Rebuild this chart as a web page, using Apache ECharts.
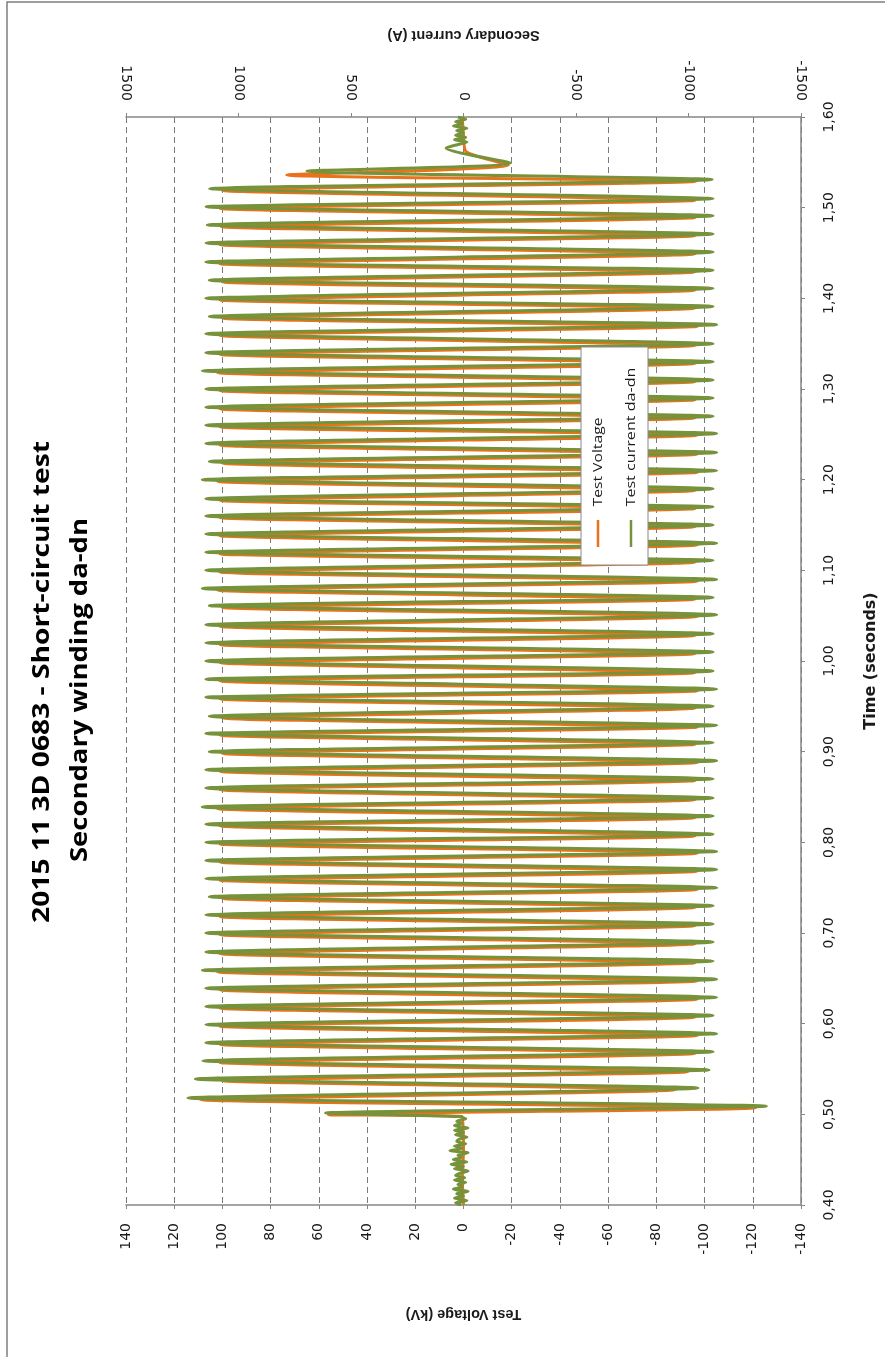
<!DOCTYPE html>
<html>
<head>
<meta charset="utf-8">
<script src="https://cdn.jsdelivr.net/npm/echarts@6/dist/echarts.min.js"></script>
<style>html,body{margin:0;padding:0;background:#fff;}#chart{width:885px;height:1357px;}</style>
</head>
<body>
<div id="chart"></div>
<script>
// ---- Data ----
const titleLine1 = '2015 11 3D 0683 - Short-circuit test';
const titleLine2 = 'Secondary winding da-dn';
const seriesNames = ['Test Voltage', 'Test current da-dn'];

// Test Voltage (kV) — pre-fault trace and first transient peak
const voltStartT = [0.400, 0.430, 0.460, 0.4975, 0.4995];
const voltStartV = [0, 0.5, 0, 0.5, 56];
// Test Voltage positive peaks
const voltPosT = [0.516,0.537,0.557,0.577,0.597,0.617,0.637,0.657,0.677,0.698,0.718,0.738,0.758,0.778,0.798,0.818,0.837,0.858,0.878,0.898,0.918,0.937,0.958,0.978,0.998,1.018,1.038,1.059,1.078,1.098,1.118,1.138,1.158,1.177,1.198,1.218,1.238,1.258,1.278,1.298,1.318,1.338,1.359,1.378,1.398,1.418,1.438,1.459,1.479,1.499,1.519];
const voltPosV = [109,100,101,101,101,101,101,102,101,101,101,100,101,101,101,101,102,101,101,100,101,100,101,101,101,101,101,100,102,101,101,101,101,101,102,100,101,101,101,101,102,101,101,100,101,100,101,101,100.5,101,100];
// Test Voltage negative peaks
const voltNegT = [0.507,0.527,0.547,0.567,0.587,0.607,0.627,0.647,0.667,0.688,0.708,0.728,0.748,0.768,0.788,0.807,0.827,0.847,0.868,0.888,0.908,0.927,0.948,0.967,0.987,1.008,1.028,1.049,1.068,1.088,1.109,1.128,1.148,1.168,1.188,1.208,1.228,1.249,1.268,1.288,1.308,1.328,1.348,1.369,1.389,1.409,1.429,1.449,1.469,1.489,1.508,1.529];
const voltNegV = [-121,-88,-93,-96,-97,-96,-97,-97,-96,-96,-96,-96,-97,-97,-97,-96,-96,-96,-96,-97,-96,-97,-96,-97,-96,-96,-96,-97,-96,-97,-96,-97,-96,-96,-96,-97,-97,-97,-96,-96,-96,-96,-96,-97,-96,-96,-96,-96,-96,-96,-96,-96.5];
// Test Voltage — switch-off transient and post-fault trace
const voltEndT = [1.536, 1.547, 1.562, 1.580, 1.600];
const voltEndV = [73.3, -18.6, -1, 0, 0.5];

// Secondary current (A) — pre-fault noise and first transient peak
const currStartT = [0.4000,0.4025,0.4050,0.4075,0.4100,0.4125,0.4150,0.4175,0.4200,0.4225,0.4250,0.4275,0.4300,0.4325,0.4350,0.4375,0.4400,0.4425,0.4450,0.4475,0.4500,0.4525,0.4550,0.4575,0.4600,0.4625,0.4650,0.4675,0.4700,0.4725,0.4750,0.4775,0.4800,0.4825,0.4850,0.4875,0.4900,0.4925,0.4950,0.4975,0.5015];
const currStartV = [10,35,-15,40,0,30,-20,45,5,25,-10,40,-5,35,15,-20,40,0,55,-15,45,10,25,-20,60,5,40,-10,30,20,-15,35,0,40,-20,40,10,30,-10,20,613];
// Secondary current positive peaks
const currPosT = [0.518,0.539,0.559,0.579,0.599,0.619,0.639,0.659,0.679,0.700,0.720,0.740,0.760,0.780,0.800,0.820,0.839,0.860,0.880,0.900,0.920,0.939,0.960,0.980,1.000,1.020,1.040,1.061,1.080,1.100,1.120,1.140,1.160,1.179,1.200,1.220,1.240,1.260,1.280,1.300,1.320,1.340,1.361,1.380,1.400,1.420,1.440,1.461,1.481,1.501,1.521];
const currPosV = [1225,1192,1158,1145,1145,1145,1145,1161,1145,1145,1145,1130,1145,1145,1145,1145,1161,1145,1145,1130,1145,1130,1145,1145,1145,1145,1145,1130,1161,1145,1145,1145,1145,1145,1161,1130,1145,1145,1145,1145,1161,1145,1145,1130,1145,1130,1145,1144,1139,1144,1128];
// Secondary current negative peaks
const currNegT = [0.509,0.529,0.549,0.569,0.589,0.609,0.629,0.649,0.669,0.690,0.710,0.730,0.750,0.770,0.790,0.809,0.829,0.849,0.870,0.890,0.910,0.929,0.950,0.969,0.989,1.010,1.030,1.051,1.070,1.090,1.111,1.130,1.150,1.170,1.190,1.210,1.230,1.251,1.270,1.290,1.310,1.330,1.350,1.371,1.391,1.411,1.431,1.451,1.471,1.491,1.510,1.531];
const currNegV = [-1346,-1042,-1091,-1109,-1125,-1109,-1125,-1125,-1109,-1109,-1109,-1109,-1125,-1125,-1125,-1109,-1109,-1109,-1109,-1125,-1109,-1125,-1109,-1125,-1109,-1109,-1109,-1125,-1109,-1125,-1109,-1125,-1109,-1109,-1109,-1125,-1125,-1125,-1109,-1109,-1109,-1109,-1109,-1125,-1109,-1109,-1109,-1109,-1109,-1109,-1109,-1105];
// Secondary current — switch-off transient and post-fault noise
const currEndT = [1.5404,1.5492,1.5658,1.5700,1.5725,1.5750,1.5775,1.5800,1.5825,1.5850,1.5875,1.5900,1.5925,1.5950,1.5975,1.6000];
const currEndV = [696,-209,77,20,-15,40,-10,35,0,30,-15,45,5,35,-10,25];

// Axis ticks
const voltTicks = {min: -140, max: 140, interval: 20};
const currTicks = {min: -1500, max: 1500, interval: 500};
const timeTicks = {min: 0.4, max: 1.6, interval: 0.1};

// ---- Build series tables ----
function pairs(ts, vs) { return ts.map((t, i) => [vs[i], t]); }
function build(groups) {
  let all = [];
  groups.forEach(g => { all = all.concat(pairs(g[0], g[1])); });
  return all.sort((a, b) => a[1] - b[1]);
}
const voltData = build([[voltStartT, voltStartV], [voltPosT, voltPosV], [voltNegT, voltNegV], [voltEndT, voltEndV]]);
const currData = build([[currStartT, currStartV], [currPosT, currPosV], [currNegT, currNegV], [currEndT, currEndV]]);

// ---- Styling helpers ----
const ORANGE = '#E8731A', GREEN = '#76933C', AXIS = '#868686';
const measureCtx = document.createElement('canvas').getContext('2d');
function textWidth(text, font) { measureCtx.font = font; return measureCtx.measureText(text).width; }
function vText(text, cx, cy, len, font, color) {
  const w = textWidth(text, font);
  return {
    type: 'text', x: cx, y: cy, rotation: Math.PI / 2, scaleX: len / w, silent: true,
    style: {text: text, font: font, fill: color, align: 'center', verticalAlign: 'middle',
            textAlign: 'center', textVerticalAlign: 'middle'}
  };
}

const chart = echarts.init(document.getElementById('chart'), null, {renderer: 'canvas'});
const labelFont = {fontFamily: 'DejaVu Sans', fontSize: 14, color: '#1a1a1a'};
const nameFont = {fontFamily: 'Liberation Sans', fontSize: 14.5, fontWeight: 'bold', color: '#1a1a1a'};
const plain = v => String(v);

chart.setOption({
  animation: false,
  backgroundColor: '#fff',
  legend: {show: false, data: seriesNames},
  grid: {left: 126, right: 84, top: 117, bottom: 152, containLabel: false, outerBoundsMode: 'none'},
  xAxis: [
    {
      type: 'value', position: 'bottom', inverse: true,
      min: voltTicks.min, max: voltTicks.max, interval: voltTicks.interval,
      name: 'Test Voltage (kV)', nameLocation: 'middle', nameRotate: 180, nameGap: 101,
      nameTextStyle: nameFont,
      axisLine: {show: true, onZero: false, lineStyle: {color: AXIS, width: 1.5}},
      axisTick: {show: true, length: 4, lineStyle: {color: AXIS}},
      axisLabel: Object.assign({rotate: 90, margin: 18, formatter: plain}, labelFont),
      splitLine: {show: true, lineStyle: {color: '#7a7a7a', type: [6, 4], width: 1}}
    },
    {
      type: 'value', position: 'top', inverse: true,
      min: currTicks.min, max: currTicks.max, interval: currTicks.interval,
      name: 'Secondary current (A)', nameLocation: 'middle', nameRotate: 180, nameGap: 75,
      nameTextStyle: nameFont,
      axisLine: {show: true, onZero: false, lineStyle: {color: AXIS, width: 1.5}},
      axisTick: {show: true, length: 4, lineStyle: {color: AXIS}},
      axisLabel: Object.assign({rotate: 90, margin: 16, formatter: plain}, labelFont),
      splitLine: {show: false}
    }
  ],
  yAxis: [
    {
      type: 'value', position: 'right',
      min: timeTicks.min, max: timeTicks.max, interval: timeTicks.interval,
      name: 'Time (seconds)', nameLocation: 'middle', nameRotate: 90, nameGap: 62,
      nameTextStyle: {fontFamily: 'DejaVu Sans', fontSize: 16, fontWeight: 'bold', color: '#1a1a1a'},
      axisLine: {show: true, onZero: false, lineStyle: {color: AXIS, width: 1.5}},
      axisTick: {show: true, length: 4, lineStyle: {color: AXIS}},
      axisLabel: Object.assign({rotate: 90, margin: 21, align: 'center', verticalAlign: 'top',
        formatter: v => v.toFixed(2).replace('.', ',')}, labelFont),
      splitLine: {show: false}
    }
  ],
  series: [
    {
      name: seriesNames[0], type: 'line', xAxisIndex: 0, yAxisIndex: 0,
      data: voltData, showSymbol: false, symbol: 'none', sampling: null, clip: true, smooth: 0.25,
      lineStyle: {color: ORANGE, width: 3}, itemStyle: {color: ORANGE}, z: 2
    },
    {
      name: seriesNames[1], type: 'line', xAxisIndex: 1, yAxisIndex: 0,
      data: currData, showSymbol: false, symbol: 'none', sampling: null, clip: true, smooth: 0.25,
      lineStyle: {color: GREEN, width: 3}, itemStyle: {color: GREEN}, z: 3
    }
  ],
  graphic: [
    {type: 'rect', silent: true, shape: {x: 7, y: 2, width: 1000, height: 1500},
     style: {fill: 'none', stroke: '#7f7f7f', lineWidth: 1.5}},
    vText(titleLine1, 42, 682, 482, 'bold 23px "Open Sans"', '#000'),
    vText(titleLine2, 80, 690, 344, 'bold 23px "Open Sans"', '#000'),
    {type: 'rect', silent: true, z: 10, shape: {x: 581, y: 347, width: 67, height: 218},
     style: {fill: '#fff', stroke: '#8a8a8a', lineWidth: 1}},
    {type: 'line', silent: true, z: 11, shape: {x1: 598, y1: 547, x2: 598, y2: 520},
     style: {stroke: ORANGE, lineWidth: 2.5}},
    {type: 'line', silent: true, z: 11, shape: {x1: 631, y1: 547, x2: 631, y2: 520},
     style: {stroke: GREEN, lineWidth: 2.5}},
    Object.assign(vText(seriesNames[0], 598, 462, 89, '13px "Open Sans"', '#1a1a1a'), {z: 11}),
    Object.assign(vText(seriesNames[1], 631, 437, 139, '13px "Open Sans"', '#1a1a1a'), {z: 11})
  ]
});
</script>
</body>
</html>
